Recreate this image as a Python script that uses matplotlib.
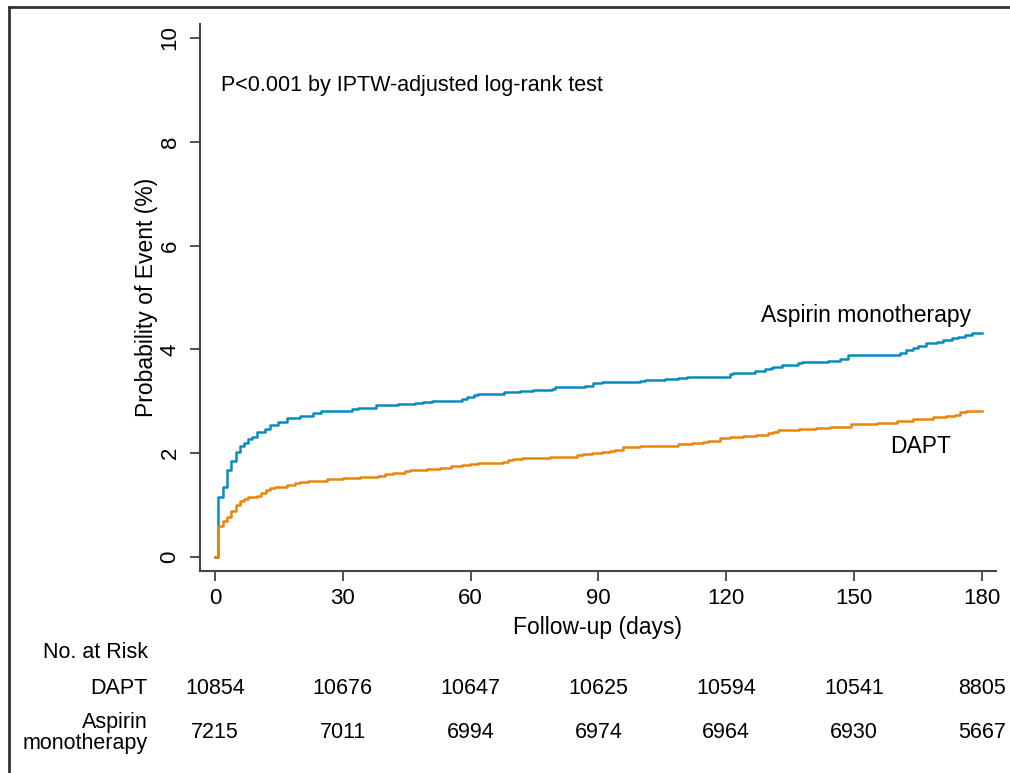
import matplotlib
matplotlib.use("Agg")
import matplotlib.pyplot as plt
import matplotlib.transforms as mtransforms
from matplotlib.lines import Line2D

plt.rcParams["font.family"] = ["Liberation Sans", "DejaVu Sans"]

# Kaplan-Meier style cumulative event curves (days, % event)
aspirin_days = [0, 0.77, 1.8, 2.75, 3.7, 4.9, 5.8, 6.8, 7.8, 8.75, 9.9, 11.7, 12.9, 14.7,
                16.8, 19.9, 23, 24.8, 32.1, 33.6, 37.7, 42.9, 46.9, 48.8, 50.9, 57.9, 59.1,
                60.8, 61.8, 67.8, 68.8, 71.7, 74.7, 79, 79.8, 86.8, 88.8, 90.8, 99.7, 100.9,
                105.6, 108.7, 110.7, 120.9, 121.6, 126.7, 129.1, 130.6, 131, 133, 136.9,
                137.7, 143.9, 146.7, 148.6, 160.8, 162.3, 163.9, 165.1, 167, 169.4, 170.9,
                172.9, 174.4, 176, 177.6, 180]
aspirin_pct = [0, 1.16, 1.35, 1.68, 1.85, 2.02, 2.14, 2.20, 2.27, 2.32, 2.40, 2.46, 2.54, 2.61,
               2.67, 2.72, 2.77, 2.82, 2.86, 2.88, 2.93, 2.95, 2.96, 2.98, 3.00, 3.04, 3.08,
               3.12, 3.15, 3.17, 3.18, 3.20, 3.22, 3.24, 3.28, 3.30, 3.35, 3.37, 3.39, 3.41,
               3.43, 3.45, 3.47, 3.52, 3.55, 3.58, 3.62, 3.64, 3.67, 3.69, 3.73,
               3.76, 3.78, 3.81, 3.89, 3.94, 3.99, 4.03, 4.07, 4.12, 4.15, 4.18,
               4.21, 4.24, 4.28, 4.31, 4.32]

dapt_days = [0, 0.77, 1.95, 2.75, 3.7, 4.9, 5.8, 6.8, 7.8, 9.8, 10.8, 12, 12.9, 14.1, 16.8,
             18.8, 19.9, 21.9, 26.2, 30.1, 34, 38.3, 39.9, 41.8, 44.6, 45.8, 49.7, 52.8,
             55.5, 57.9, 59.8, 61.8, 67.7, 68.8, 70, 72, 78.6, 84.9, 86.4, 88.4, 90.8, 92.7,
             93.9, 95.8, 99.7, 105.6, 108.7, 111.9, 114.6, 115.8, 118.5, 120.9, 124, 127.1,
             129.9, 131, 132.2, 137.2, 141, 144.4, 149.4, 155.3, 160, 163.9, 168.5, 171.7,
             173.7, 174.8, 176.4, 180]
dapt_pct = [0, 0.60, 0.69, 0.78, 0.89, 1.00, 1.07, 1.11, 1.15, 1.18, 1.23, 1.29, 1.32, 1.35, 1.39,
            1.42, 1.45, 1.47, 1.50, 1.52, 1.54, 1.56, 1.59, 1.62, 1.66, 1.68, 1.70, 1.72,
            1.75, 1.78, 1.80, 1.82, 1.84, 1.87, 1.89, 1.91, 1.93, 1.96, 1.98, 2.00, 2.02, 2.05,
            2.07, 2.11, 2.13, 2.14, 2.17, 2.19, 2.21, 2.24, 2.30, 2.32, 2.34, 2.36,
            2.38, 2.41, 2.45, 2.47, 2.48, 2.51, 2.56, 2.59, 2.62, 2.66, 2.69, 2.72,
            2.74, 2.79, 2.81, 2.81]

x_ticks = [0, 30, 60, 90, 120, 150, 180]
y_ticks = [0, 2, 4, 6, 8, 10]
risk_dapt = [10854, 10676, 10647, 10625, 10594, 10541, 8805]
risk_aspirin = [7215, 7011, 6994, 6974, 6964, 6930, 5667]

blue = "#0a8bbf"
orange = "#e8860c"
spine_col = "#444444"

fig = plt.figure(figsize=(10.1, 7.73), dpi=100)
ax = fig.add_axes([0.198, 0.2613, 0.788, 0.7077])

ax.step(aspirin_days, aspirin_pct, where="post", color=blue, lw=1.8)
ax.step(dapt_days, dapt_pct, where="post", color=orange, lw=1.8)

ax.set_xlim(-3.52, 183.3)
ax.set_ylim(-0.27, 10.27)
ax.set_xticks(x_ticks)
ax.set_yticks(y_ticks)
ax.set_yticklabels([str(v) for v in y_ticks], rotation=90, va="center")
ax.tick_params(axis="both", labelsize=16, length=7, width=1.3, color=spine_col, pad=5)
ax.tick_params(axis="y", pad=7)
for side in ["top", "right"]:
    ax.spines[side].set_visible(False)
for side in ["left", "bottom"]:
    ax.spines[side].set_color(spine_col)
    ax.spines[side].set_linewidth(1.5)

ax.set_xlabel("Follow-up (days)", fontsize=16.5, labelpad=5)
ax.set_ylabel("Probability of Event (%)", fontsize=16.5, labelpad=1)

ax.text(1.5, 9.08, "P<0.001 by IPTW-adjusted log-rank test", fontsize=15.5, va="center")
ax.text(177.5, 4.65, "Aspirin monotherapy", fontsize=16.5, ha="right", va="center")
ax.text(158.5, 2.13, "DAPT", fontsize=16.5, ha="left", va="center")

# number-at-risk table below the plot
trans = mtransforms.blended_transform_factory(ax.transData, fig.transFigure)
fig.text(148 / 1010, 1 - 653 / 773, "No. at Risk", fontsize=15.5, ha="right", va="center")
fig.text(148 / 1010, 1 - 689 / 773, "DAPT", fontsize=15.5, ha="right", va="center")
fig.text(148 / 1010, 1 - 733 / 773, "Aspirin\nmonotherapy", fontsize=15.5, ha="right",
         va="center", multialignment="right", linespacing=1.0)
for d, n1, n2 in zip(x_ticks, risk_dapt, risk_aspirin):
    ax.text(d, 1 - 689 / 773, str(n1), transform=trans, fontsize=15.5, ha="center", va="center")
    ax.text(d, 1 - 733 / 773, str(n2), transform=trans, fontsize=15.5, ha="center", va="center")

# outer frame (left and top edges visible)
fig.add_artist(Line2D([9 / 1010, 9 / 1010], [0, 1 - 6.5 / 773], transform=fig.transFigure,
                      color="#333333", lw=2))
fig.add_artist(Line2D([9 / 1010, 1], [1 - 6.5 / 773, 1 - 6.5 / 773], transform=fig.transFigure,
                      color="#333333", lw=2))

fig.savefig("out.png", dpi=100)
